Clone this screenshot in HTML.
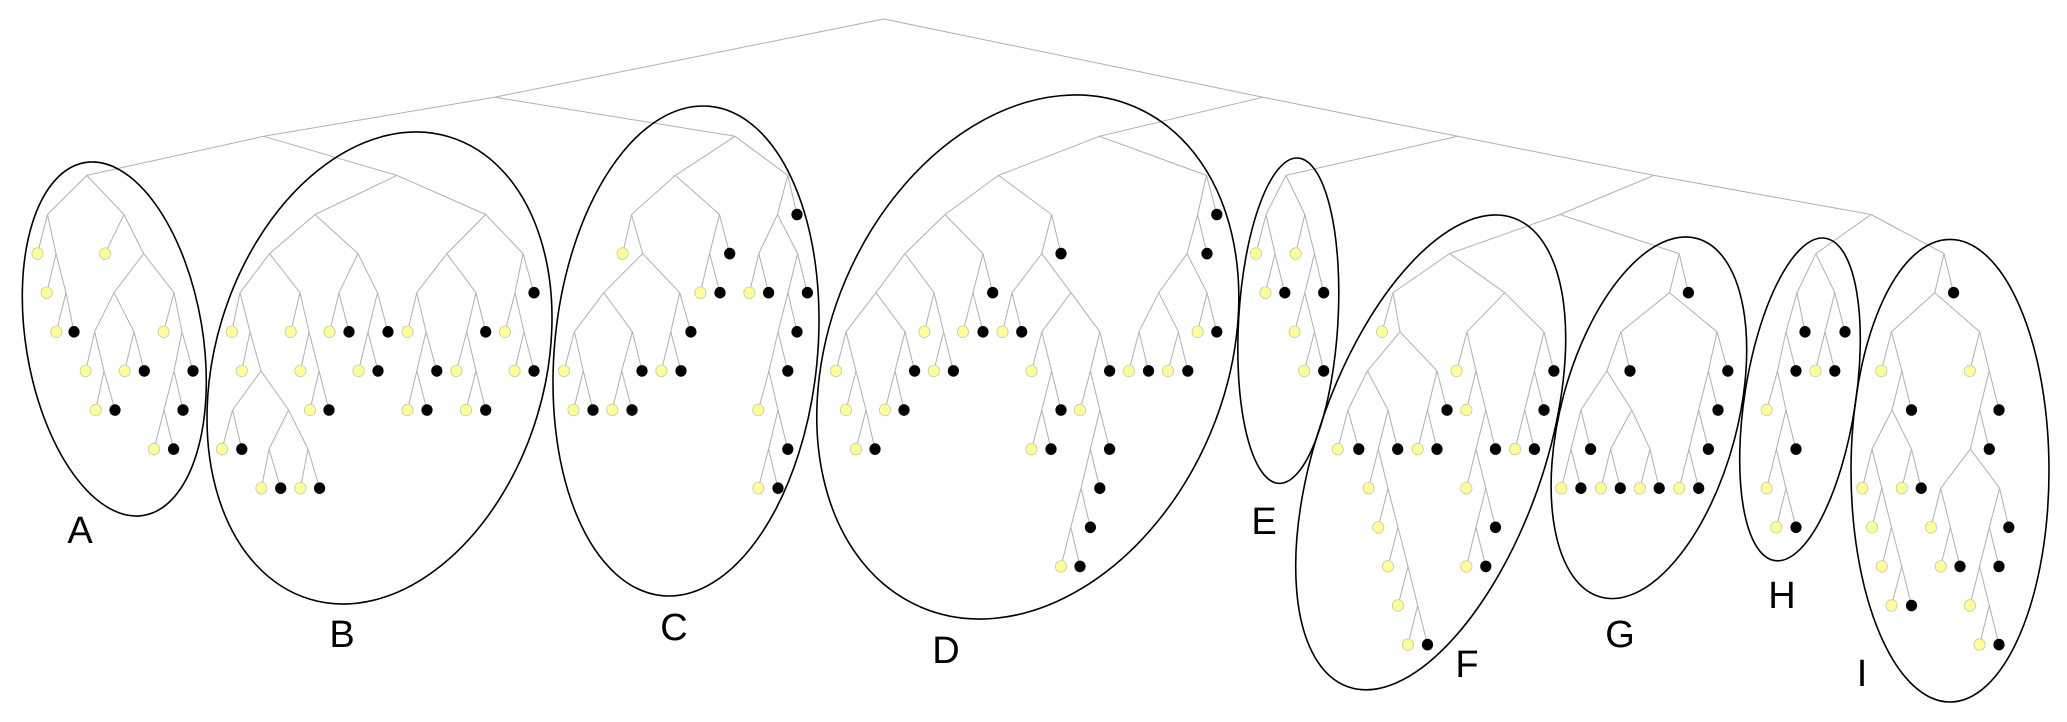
<!DOCTYPE html>
<html><head><meta charset="utf-8"><style>
html,body{margin:0;padding:0;background:#fff;}
svg{display:block;}
text{font-family:"Liberation Sans",sans-serif;font-size:38px;fill:#000;}
</style></head><body>
<svg id="s" width="2067" height="722" viewBox="0 0 2067 722" xmlns="http://www.w3.org/2000/svg">
<rect width="2067" height="722" fill="#fff"/>
<g id="edges" stroke="#b0b0b0" stroke-width="1" fill="none"></g>
<g id="leaves"></g>
<g id="ells" fill="none" stroke="#000" stroke-width="1.6"></g>
<text x="80" y="543" text-anchor="middle">A</text>
<text x="342" y="647" text-anchor="middle">B</text>
<text x="674" y="640" text-anchor="middle">C</text>
<text x="946" y="663" text-anchor="middle">D</text>
<text x="1264" y="534" text-anchor="middle">E</text>
<text x="1467" y="677" text-anchor="middle">F</text>
<text x="1620" y="647" text-anchor="middle">G</text>
<text x="1782" y="608" text-anchor="middle">H</text>
<text x="1862" y="686" text-anchor="middle">I</text>
</svg>
<script>
function Y(L){return L===0?19:19+39.1*L;}
function n(x,L){return {x:x,L:L,k:Array.prototype.slice.call(arguments,2)};}
function y(x,L){return {x:x,L:L,t:'y'};}
function b(x,L){return {x:x,L:L,t:'b'};}

var A=n(86.8,4,
 n(47.5,5, y(37.5,6), n(56,6, y(46.8,7), n(66,7, y(56.4,8), b(74,8)))),
 n(124,5, y(105,6), n(143.6,6,
   n(114,7, n(94.6,8, y(85.7,9), n(104,9, y(95.7,10), b(115,10))), n(134,8, y(124.6,9), b(144.3,9))),
   n(174,7, y(163.6,8), n(182,8, n(174,9, n(164,10, y(154,11), b(173.6,11)), b(183,10)), b(193,9))))));
var B=n(397,4,
 n(315,5,
  n(269.6,6,
   n(240,7, y(231.8,8), n(250,8, y(241.8,9), n(261,9, n(232.5,10, y(222,11), b(241.8,11)), n(288.6,10, n(269,11, y(261.4,12), b(280.7,12)), n(308,11, y(300.4,12), b(319.6,12)))))),
   n(300,7, y(290.7,8), n(309,8, y(300.4,9), n(319,9, y(310,10), b(329,10))))),
  n(358,6,
   n(339,7, y(329.6,8), b(349,8)),
   n(377.5,7, n(368,8, y(358.6,9), b(378,9)), b(388,8)))),
 n(485.7,5,
  n(446.8,6,
   n(416.8,7, y(407.5,8), n(426,8, n(416.8,9, y(407.5,10), b(427,10)), b(436.8,9))),
   n(476,7, n(466.8,8, y(456.4,9), n(476,9, y(466,10), b(485.7,10))), b(485.7,8))),
  n(523,6, n(515,7, y(505,8), n(524,8, y(514.6,9), b(534,9))), b(534,7))));
var C1=n(675.3,4,
 n(631.5,5, y(622.6,6), n(642.7,6,
   n(603.8,7, n(574.4,8, y(564,9), n(583.3,9, y(573.5,10), b(593,10))), n(632.4,8, n(621.7,9, y(612.3,10), b(632,10)), b(642,9))),
   n(679.7,7, n(670.8,8, y(661.4,9), b(681,9)), b(690.9,8)))),
 n(719.5,5, n(709.6,6, y(700.3,7), b(720,7)), b(729.7,6)));
var C2=n(787.8,4,
 n(777.5,5,
  n(758.8,6, y(749.4,7), b(768.6,7)),
  n(797.6,6, n(788,7, n(778,8, n(769,9, y(758.3,10), n(778,10, n(768.6,11, y(758.3,12), b(778,12)), b(787.8,11))), b(787.8,9)), b(797,8)), b(807.4,7))),
 b(797,5));
var D=n(1099.4,3,
 n(998.5,4,
  n(945,5,
   n(905,6,
    n(876,7,
     n(846,8, y(836,9), n(856,9, y(846,10), n(866,10, y(856,11), b(875,11)))),
     n(905,8, n(895,9, y(885,10), b(904,10)), b(914.6,9))),
    n(934,7, y(924.4,8), n(943.6,8, y(933.8,9), b(953.4,9)))),
   n(983,6, n(973,7, y(963,8), b(983,8)), b(992.7,7))),
  n(1051.6,5,
   n(1041.8,6,
    n(1012,7, y(1002.5,8), b(1021.7,8)),
    n(1071,7,
     n(1041.8,8, y(1031.5,9), n(1051.6,9, n(1041.8,10, y(1031.5,11), b(1051,11)), b(1061,10))),
     n(1099.8,8, n(1090.4,9, y(1080,10), n(1099.8,10, n(1090.4,11, n(1081,12, n(1070.8,13, y(1061,14), b(1080,14)), b(1090.4,13)), b(1099.8,12)), b(1109.6,11))), b(1109.6,9)))),
   b(1061,6))),
 n(1206.5,4,
  n(1197.6,5,
   n(1187,6,
    n(1158.8,7, n(1139,8, y(1129,9), b(1148.5,9)), n(1178.4,8, y(1168,9), b(1187.8,9))),
    n(1207,7, y(1197.6,8), b(1216.8,8))),
   b(1207,6)),
  b(1216.8,5)));
var E=n(1286,4,
 n(1266,5, y(1256,6), n(1275,6, y(1265.4,7), b(1284.8,7))),
 n(1304.8,5, y(1295.6,6), n(1314.5,6, n(1304.8,7, y(1294.6,8), n(1314.5,8, y(1304.3,9), b(1323.7,9))), b(1323.7,7))));
var F=n(1449.6,6,
 n(1393,7, y(1382,8), n(1400,8,
   n(1367.5,9, n(1348,10, y(1337.8,11), b(1358.8,11)), n(1388,10, n(1378.3,11, y(1368.6,12), n(1388,12, y(1378.3,13), n(1398,13, y(1388,14), n(1408,14, y(1398,15), n(1417.7,15, y(1408,16), b(1427.5,16)))))), b(1397.7,11))),
   n(1437,9, n(1427.5,10, y(1417.7,11), b(1437,11)), b(1447,10)))),
 n(1504.7,7,
  n(1467,8, y(1456.6,9), n(1476,9, y(1466.4,10), n(1485.8,10, n(1476,11, y(1466.4,12), n(1485.8,12, n(1476,13, y(1466.4,14), b(1485.8,14)), b(1495.5,13))), b(1495.5,11)))),
  n(1544,8, n(1534.4,9, n(1524.7,10, y(1515,11), b(1534.4,11)), b(1544,10)), b(1553.9,9))));
var G=n(1679.2,6,
 n(1669.5,7,
  n(1620.9,8,
   n(1606.8,9,
    n(1580.9,10, n(1571,11, y(1561.4,12), b(1580.9,12)), b(1590.6,11)),
    n(1631.7,10, n(1610.6,11, y(1600.9,12), b(1620.3,12)), n(1650,11, y(1639.8,12), b(1659.2,12)))),
   b(1630,9)),
  n(1717,8, n(1708.4,9, n(1698.7,10, n(1689,11, y(1679.2,12), b(1698.7,12)), b(1708.4,11)), b(1718,10)), b(1727.8,9))),
 b(1688.4,7));
var H=n(1815.9,6,
 n(1797,7, n(1786,8, n(1777.5,9, y(1766.7,10), n(1786,10, n(1776.4,11, y(1766.7,12), n(1786,12, y(1776.4,13), b(1796,13))), b(1796,11))), b(1796,9)), b(1805,8)),
 n(1834.8,7, n(1825,8, y(1815.4,9), b(1834.8,9)), b(1845,8)));
var I=n(1944,6,
 n(1934.7,7,
  n(1891.5,8, y(1881.3,9), n(1901.8,9, n(1892,10,
     n(1872,11, y(1862.3,12), n(1881.8,12, y(1872,13), n(1891.5,13, y(1881.8,14), n(1901.8,14, y(1891.5,15), b(1911.5,15))))),
     n(1911.5,11, y(1901.8,12), b(1921.2,12))), b(1911.5,10))),
  n(1979.6,8, y(1969.9,9), n(1989.3,9, n(1979.6,10, n(1970.4,11,
     n(1940.7,12, y(1931,13), n(1950.4,13, y(1940.7,14), b(1960,14))),
     n(1999.6,12, n(1989.3,13, n(1979.6,14, y(1969.9,15), n(1989.3,15, y(1979.6,16), b(1999,16))), b(1999,14)), b(2008.8,13))),
    b(1989.3,11)), b(1999,10)))),
 b(1953.6,7));
var ROOT=n(883.8,0,
 n(494.6,2, n(263.6,3, A, B), n(735,3, C1, C2)),
 n(1263,2, D, n(1457.7,3, E, n(1653.8,4, n(1560,5, F, G), n(1871,5, H, I)))));

var NS="http://www.w3.org/2000/svg";
var eg=document.getElementById('edges'), lg=document.getElementById('leaves');
function mk(tag,attrs,parent){var e=document.createElementNS(NS,tag);for(var k in attrs)e.setAttribute(k,attrs[k]);parent.appendChild(e);return e;}
var leaves=[];
function walk(nd){
  if(!nd.k){leaves.push(nd);return;}
  nd.k.forEach(function(c){
    mk('line',{x1:nd.x,y1:Y(nd.L),x2:c.x,y2:Y(c.L)},eg);
    walk(c);
  });
}
walk(ROOT);
leaves.forEach(function(l){
  if(l.t==='y') mk('ellipse',{cx:l.x,cy:Y(l.L),rx:5.6,ry:5.8,fill:'#ffff99',stroke:'#c8c8a0','stroke-width':0.8},lg);
  else mk('ellipse',{cx:l.x,cy:Y(l.L),rx:5.6,ry:5.8,fill:'#000'},lg);
});
var eG=document.getElementById('ells');
function ell(cx,cy,hw,hh,dx){
  var S=hw*hw+hh*hh, Dd=hh*hh-hw*hw, P=dx*hh;
  var th=0.5*Math.atan2(2*P,Dd);
  var del=Math.sqrt(Dd*Dd+4*P*P);
  var a=Math.sqrt(Math.max((S-del)/2,1)), bb=Math.sqrt((S+del)/2);
  mk('ellipse',{cx:cx,cy:cy,rx:a,ry:bb,transform:'rotate('+(th*180/Math.PI)+' '+cx+' '+cy+')'},eG);
}
ell(114.3,339,92,177,-22);
ell(379.5,368,172.5,236,36.5);
ell(686,351,133,245,17);
ell(1027.8,357,211,262,48);
ell(1288.3,320.7,50.5,162.7,8.7);
ell(1430.7,452.4,135,237.4,64.8);
ell(1648.9,417.8,97.8,180.8,36.8);
ell(1800,399.4,60.3,161.4,22.4);
ell(1950,470.7,99,231.3,0);
</script>
</body></html>
